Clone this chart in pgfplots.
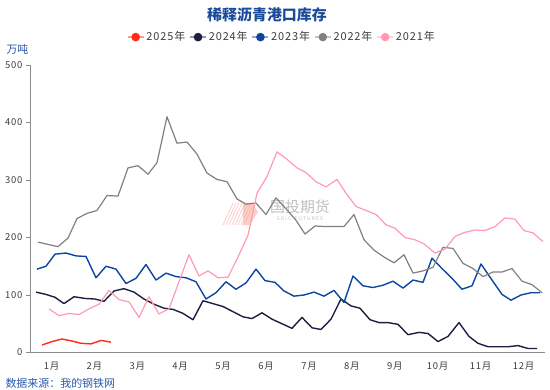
\documentclass[border=0pt]{standalone}
\usepackage{fontspec}
\setmainfont{Noto Sans CJK SC}
\newfontfamily\spfont[LetterSpace=8]{Noto Sans CJK SC}
\usepackage{pgfplots}
\usepackage{pgfplotstable}
\pgfplotsset{compat=1.18}
\definecolor{c25}{RGB}{255,45,20}
\definecolor{c24}{RGB}{28,32,64}
\definecolor{c23}{RGB}{12,70,160}
\definecolor{c22}{RGB}{128,128,128}
\definecolor{c21}{RGB}{255,154,178}
\definecolor{titleblue}{RGB}{26,74,154}
\definecolor{txtblue}{RGB}{40,90,170}
\definecolor{axgray}{RGB}{140,140,140}
\definecolor{lbl}{RGB}{60,60,60}
\definecolor{wm}{RGB}{250,150,130}

\pgfplotstableread{
x y
42 13
52 19
62 23.5
72 20
81 16
91 15
101 21
111 18
}\dA
\pgfplotstableread{
x y
36 105
46 101
55 96
64 85
74 97
85 94
95 93
104 89
114 107
124 111
134 105
144 93
154 84
164 77
173 75
183 68
193 57
203 90
213 85
223 80
233 71
243 62
252 59
262 69
272 58
282 50
292 42
302 61
312 43
321 40
331 58
341 93
351 81
360 77
370 57
379 52
388 52
398 49
408 31
419 35
428 33
438 19
448 28
459 52
469 28
478 16
488 10
498 10
508 10
518 12
528 7
537 7
}\dB
\pgfplotstableread{
x y
37 145
46 150
55 171
66 173
76 168
86 167
96 130
106 150
116 145
126 120
136 129
146 153
156 126
166 138
176 132
186 130
196 123
206 93
216 104
226 123
236 110
246 121
256 145
265 125
275 122
284 107
294 98
304 100
314 105
324 98
334 108
344 87
353 133
363 116
373 113
383 117
393 124
403 112
413 126
423 122
432 164
442 146
452 129
462 110
472 116
481 154
492 126
502 101
511 91
521 100
531 104
540 104
}\dC
\pgfplotstableread{
x y
38 192
48 188
58 184
68 199
77 233
87 242
97 247
107 273
118 272
128 321
138 325
148 310
157 330
167 410
177 364
187 366
197 345
207 312
217 301
227 297
237 267
246 258
256 260
266 240
276 269
286 250
296 230
305 206
315 220
325 219
334 219
344 219
354 240
364 196
374 178
384 166
394 156
404 170
413 138
423 142
433 148
443 183
453 181
463 155
473 146
483 132
493 140
502 140
512 146
522 124
532 118
542 104
}\dD
\pgfplotstableread{
x y
49 76
59 64
69 68
79 66
89 76
99 84
109 108
119 92
129 88
139 61
149 97
159 67
169 76
179 123
189 170
199 133
208 142
218 130
228 131
238 166
248 204
257 277
267 306
277 349
287 336
297 321
306 313
316 297
326 288
337 301
346 277
356 254
366 247
376 240
386 222
395 216
405 200
415 196
424 189
435 173
445 180
455 202
465 209
475 213
485 212
495 219
505 234
515 232
524 212
533 208
543 193
}\dE

\begin{document}
\begin{tikzpicture}
\useasboundingbox (0,0) rectangle (550bp,390bp);
% watermark
\begin{scope}[wm, opacity=0.45, line width=0.8bp]
\foreach \i in {0,3,...,21} {
  \draw (223bp+\i bp,165bp) -- (233bp+\i bp,187bp);
}
\fill (243bp,165bp) -- (250bp,165bp) -- (258bp,178bp) -- (252bp,187bp) -- (243bp,187bp) -- cycle;
\end{scope}
\node[text=black!25, font=\fontsize{15}{15}\selectfont] at (300bp,183bp) {国投期货};
\node[text=black!25, font=\fontsize{5}{5}\selectfont] at (300bp,171bp) {S D I C \ \ F U T U R E S};
\node[text=titleblue, font=\bfseries\fontsize{15}{15}\selectfont] at (267bp,375bp) {稀释沥青港口库存};
\node[text=txtblue, font=\fontsize{11}{11}\selectfont, anchor=west] at (3bp,341bp) {万吨};
\node[text=txtblue, font=\fontsize{11}{11}\selectfont, anchor=west] at (2bp,7bp) {数据来源：我的钢铁网};
\begin{axis}[
  at={(30bp,37.5bp)}, anchor=south west,
  scale only axis, width=515bp, height=287.5bp,
  xmin=30, xmax=545, ymin=0, ymax=500,
  axis lines*=left,
  axis line style={axgray, line width=0.9bp},
  tick align=outside,
  ytick={0,100,...,500},
  xtick={51.5,94.4,137.3,180.2,223.1,266.1,309,351.9,394.8,437.7,480.7,523.6},
  xticklabels={1月,2月,3月,4月,5月,6月,7月,8月,9月,10月,11月,12月},
  x tick style={draw=none},
  minor xtick={30,72.9,115.8,158.8,201.7,244.6,287.5,330.4,373.4,416.3,459.2,502.1,545},
  minor x tick style={axgray, line width=0.9bp},
  minor tick length=5bp,
  y tick style={axgray, line width=0.9bp},
  major tick length=4bp,
  /pgf/number format/assume math mode=true,
  ticklabel style={font=\spfont\fontsize{9.5}{10}\selectfont, text=lbl},
  xticklabel style={yshift=-2bp},
  clip=false,
  legend columns=5,
  legend style={at={(0.489,1.097)}, anchor=center, draw=none, fill=none,
    font=\spfont\fontsize{11}{11}\selectfont, text=lbl,
    /tikz/every even column/.append style={column sep=2bp}},
  legend image code/.code={
    \draw[#1, line width=1.6bp, opacity=0.45] (0bp,0bp) -- (16bp,0bp);
    \fill[#1, opacity=1] (8bp,0bp) circle (3.6bp);
  },
  every axis plot/.append style={line width=1.4bp, line join=round},
]
\addplot[c25, no marks] table {\dA};
\addlegendentry{2025年}
\addplot[c24, no marks] table {\dB};
\addlegendentry{2024年}
\addplot[c23, no marks] table {\dC};
\addlegendentry{2023年}
\addplot[c22, no marks, line width=1.2bp] table {\dD};
\addlegendentry{2022年}
\addplot[c21, no marks, line width=1.2bp] table {\dE};
\addlegendentry{2021年}
\end{axis}
\end{tikzpicture}
\end{document}
